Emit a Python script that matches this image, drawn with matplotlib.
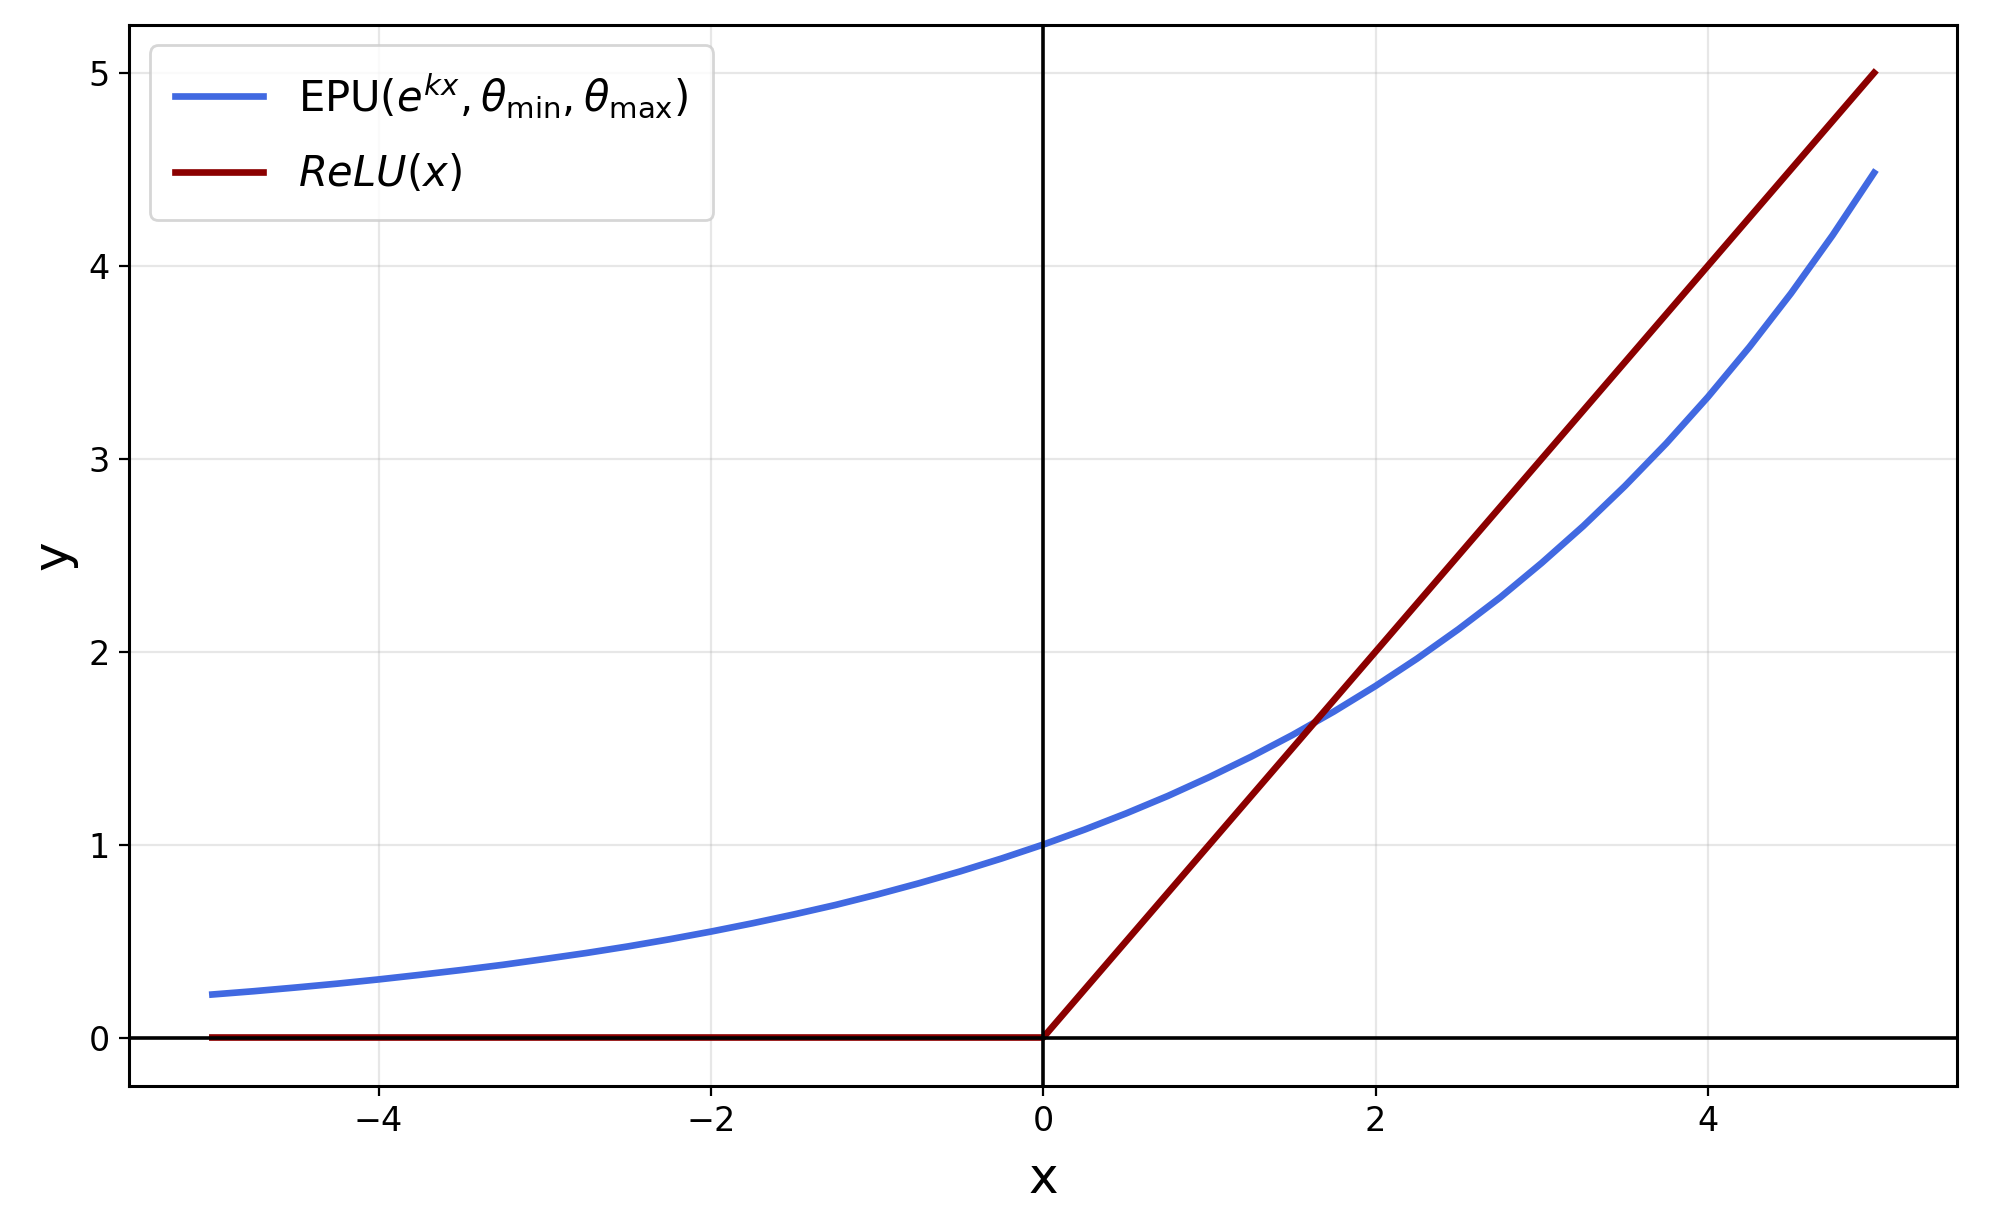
import matplotlib
matplotlib.use("Agg")
import matplotlib.pyplot as plt

# values
epu_x = [-5.0, -4.75, -4.5, -4.25, -4.0, -3.75, -3.5, -3.25, -3.0, -2.75,
         -2.5, -2.25, -2.0, -1.75, -1.5, -1.25, -1.0, -0.75, -0.5, -0.25,
         0.0, 0.25, 0.5, 0.75, 1.0, 1.25, 1.5, 1.75, 2.0, 2.25,
         2.5, 2.75, 3.0, 3.25, 3.5, 3.75, 4.0, 4.25, 4.5, 4.75, 5.0]
epu_y = [0.223, 0.240, 0.259, 0.279, 0.301, 0.325, 0.350, 0.377, 0.407, 0.438,
         0.472, 0.509, 0.549, 0.592, 0.638, 0.687, 0.741, 0.799, 0.861, 0.928,
         1.000, 1.078, 1.162, 1.252, 1.350, 1.455, 1.568, 1.690, 1.822, 1.964,
         2.117, 2.281, 2.460, 2.651, 2.858, 3.080, 3.320, 3.579, 3.857, 4.158, 4.482]
relu_x = [-5.0, 0.0, 5.0]
relu_y = [0.0, 0.0, 5.0]

epu_label = r'EPU($e^{kx}, \theta_{\min}, \theta_{\max}$)'
relu_label = r'$ReLU(x)$'


def plot_chart():
    fig = plt.figure(figsize=(9.945, 6.155), dpi=200)
    ax = fig.add_axes([0.065, 0.118, 0.919, 0.862])

    ax.plot(epu_x, epu_y, color='#4169e1', lw=2.4, label=epu_label)
    ax.plot(relu_x, relu_y, color='#8b0000', lw=2.4, label=relu_label)

    ax.axhline(0, color='black', lw=1.3)
    ax.axvline(0, color='black', lw=1.3)
    for s in ax.spines.values():
        s.set_linewidth(1.1)

    ax.set_xlabel('x', fontsize=18, labelpad=6)
    ax.set_ylabel('y', fontsize=18)
    ax.tick_params(labelsize=12)
    ax.grid(True, alpha=0.3)
    ax.legend(loc='upper left', fontsize=15, labelspacing=0.8,
              handlelength=2.1, handletextpad=0.85, borderpad=0.6)

    fig.savefig('out.png', dpi=200)


if __name__ == "__main__":
    plot_chart()
